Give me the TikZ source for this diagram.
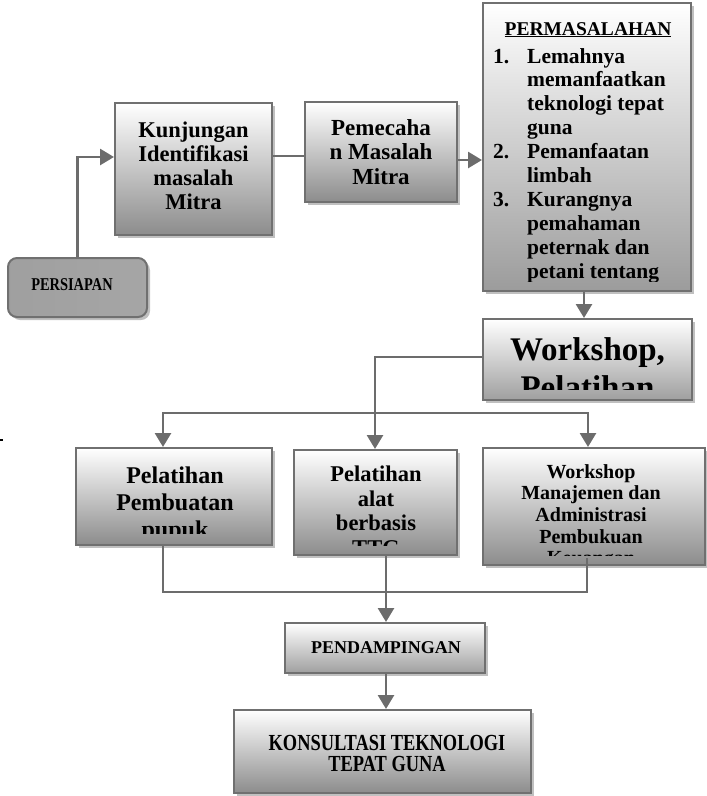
\documentclass[tikz,border=0pt]{standalone}
\usepackage{fontspec}
\setmainfont{Liberation Serif}
\newfontfamily\condserif[FakeStretch=0.8]{Liberation Serif}
\usetikzlibrary{arrows.meta,shadows}
\definecolor{linegray}{RGB}{108,108,108}
\definecolor{bordergray}{RGB}{112,112,112}
\definecolor{shadowgray}{RGB}{192,192,192}
\definecolor{botgray}{RGB}{140,140,140}
\newcommand\fs[2]{\fontsize{#1}{#2}\selectfont\bfseries}
\newcommand\cfs[2]{\condserif\fontsize{#1}{#2}\selectfont\bfseries}
\newcommand\tlines[6]{\foreach \t [count=\i] in {#6} {\node[txt, font=#5] (#1-\i) at (#2, {#3+#4*(\i-1)}) {\t};}}
\begin{document}
\begin{tikzpicture}[x=1pt,y=-1pt,
  basebox/.style={draw=bordergray, line width=2pt, inner sep=0pt,
    drop shadow={shadow xshift=3pt, shadow yshift=-3pt, fill=shadowgray, opacity=1}},
  gbox/.style={basebox, top color=white, bottom color=#1},
  gbox/.default=botgray,
  txt/.style={anchor=base, inner sep=0pt, text=black},
  ltxt/.style={anchor=base west, inner sep=0pt, text=black},
  conn/.style={draw=linegray, line width=2.8pt},
  arr/.style={conn, -{Triangle[width=16pt,length=14pt]}}]
\useasboundingbox (0,0) rectangle (707,796);

% boxes
\node[basebox, rounded corners=9pt, left color=gray!75, middle color=gray!12, right color=gray!70,
  minimum width=139pt, minimum height=59pt] (persiapan) at (77.5,287.5) {};
\node[gbox, minimum width=157pt, minimum height=132pt] (kunj) at (193.5,169) {};
\node[gbox, minimum width=152pt, minimum height=100pt] (pemec) at (381,152) {};
\node[gbox=gray!78, minimum width=208pt, minimum height=288pt] (masalah) at (587,147) {};
\node[gbox=gray!75, minimum width=209pt, minimum height=81pt] (workshop) at (587.5,359.5) {};
\node[gbox, minimum width=196pt, minimum height=97pt] (pupuk) at (174,496.5) {};
\node[gbox, minimum width=163pt, minimum height=105pt] (ttg) at (375.5,502.5) {};
\node[gbox, minimum width=222pt, minimum height=117pt] (keu) at (594,506.5) {};
\node[gbox=gray!75, minimum width=200pt, minimum height=50pt] (pendamp) at (385,648) {};
\node[gbox, minimum width=297pt, minimum height=83pt] (konsul) at (382.5,751.5) {};

% texts
\node[txt, font=\cfs{18}{20}] (persiapan-t) at (72,290) {PERSIAPAN};
\tlines{kunjt}{193.5}{137}{24.3}{\fs{22.5}{25}}{Kunjungan,Identifikasi,masalah,Mitra}
\tlines{pemect}{381}{135}{24.5}{\fs{23}{25}}{Pemecaha,n Masalah,Mitra}
\begin{scope}
  \clip (484,4) rectangle (690,281);
  \node[txt, font=\fs{19.5}{21}] (masalah-title) at (588,35) {\underline{PERMASALAHAN}};
  \foreach \t [count=\i] in {Lemahnya,memanfaatkan,teknologi tepat,guna,Pemanfaatan,limbah,Kurangnya,pemahaman,peternak dan,petani tentang}
    {\node[ltxt, font=\fs{21.5}{24}] (masl-\i) at (527,{63+23.9*(\i-1)}) {\t};}
  \node[ltxt, font=\fs{21.5}{24}] (num-1) at (493,63) {1.};
  \node[ltxt, font=\fs{21.5}{24}] (num-2) at (493,{63+23.9*4}) {2.};
  \node[ltxt, font=\fs{21.5}{24}] (num-3) at (493,{63+23.9*6}) {3.};
\end{scope}
\begin{scope}
  \clip (484,320) rectangle (691,389);
  \tlines{workt}{587.5}{360}{38}{\fs{33}{38}}{{Workshop,},Pelatihan}
\end{scope}
\begin{scope}
  \clip (77,449) rectangle (271,533);
  \tlines{pupukt}{175}{483}{27}{\fs{24}{27}}{Pelatihan,Pembuatan,pupuk}
\end{scope}
\begin{scope}
  \clip (295,451) rectangle (456,545);
  \tlines{ttgt}{376}{481.5}{24.5}{\fs{22.5}{25}}{Pelatihan,alat,berbasis,TTG}
\end{scope}
\begin{scope}
  \clip (484,449) rectangle (704,555);
  \tlines{keut}{591}{478}{21.7}{\fs{20}{22}}{Workshop,Manajemen dan,Administrasi,Pembukuan,Keuangan}
\end{scope}
\node[txt, font=\fs{18}{20}] (pendamp-t) at (386,653) {PENDAMPINGAN};
\tlines{konsult}{387}{750}{21}{\cfs{23}{23}}{KONSULTASI TEKNOLOGI,TEPAT GUNA}

% connectors
\draw[arr] (persiapan.north) |- ([yshift=12pt]kunj.west);
\draw[conn] ([yshift=13pt]kunj.east) -- ([yshift=-4pt]pemec.west);
\draw[arr] ([yshift=-8pt]pemec.east) -- ([yshift=-13pt]masalah.west);
\draw[arr] ([xshift=-3pt]masalah.south) -- ([xshift=-3.5pt]workshop.north);
\draw[arr] ([yshift=2.5pt]workshop.west) -| ([xshift=-0.5pt]ttg.north);
\coordinate (split) at (375,413);
\draw[arr] (split) -| ([xshift=-11pt]pupuk.north);
\draw[arr] (split) -| ([xshift=-6pt]keu.north);
\coordinate (merge) at (386,592);
\draw[conn] ([xshift=-11pt]pupuk.south) |- (merge) -| ([xshift=-7pt,yshift=8pt]keu.south);
\draw[arr] ([xshift=10.5pt]ttg.south) -- ([xshift=1pt]pendamp.north);
\draw[arr] ([xshift=1pt]pendamp.south) -- ([xshift=3.5pt]konsul.north);

% stray mark
\fill (0,438.5) rectangle (2.5,441);
\end{tikzpicture}
\end{document}
